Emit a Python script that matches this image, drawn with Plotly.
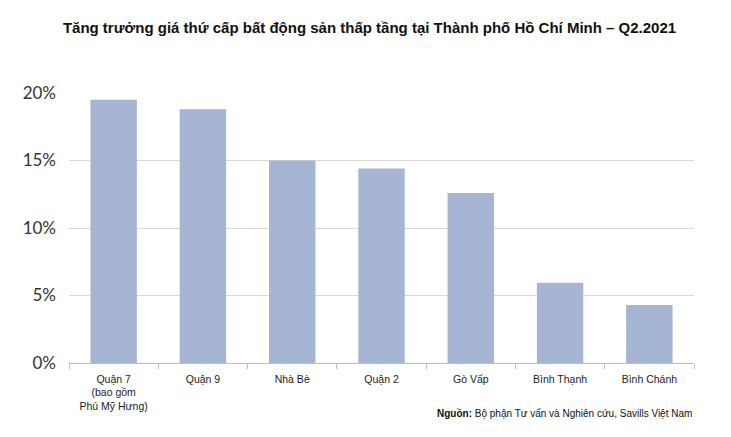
import plotly.graph_objects as go

categories = ["Quận 7<br>(bao gồm<br>Phú Mỹ Hưng)", "Quận 9", "Nhà Bè", "Quận 2", "Gò Vấp", "Bình Thạnh", "Bình Chánh"]
growth = [19.5, 18.8, 15.0, 14.4, 12.6, 5.95, 4.3]
y_ticks = [0, 5, 10, 15, 20]
y_tick_labels = ["0%", "5%", "10%", "15%", "20%"]

W, H = 723, 429  # page body has an 8px margin
PLOT_H = 270

fig = go.Figure(go.Bar(
    x=categories, y=growth,
    marker=dict(color="#a5b5d3", line=dict(width=0)),
    hoverinfo="skip",
))

fig.update_layout(
    width=W, height=H,
    margin=dict(l=61, r=37, t=85, b=H - 85 - PLOT_H),
    paper_bgcolor="white", plot_bgcolor="white",
    bargap=0.48,
    showlegend=False,
    title=dict(
        text="<b>Tăng trưởng giá thứ cấp bất động sản thấp tầng tại Thành phố Hồ Chí Minh – Q2.2021</b>",
        x=0.5, xanchor="center", y=1 - 20 / H, yanchor="middle",
        font=dict(family="Liberation Sans, Arial", size=15, color="#111111"),
    ),
    xaxis=dict(
        showgrid=False, showline=True, linecolor="#bdbdbd", linewidth=1,
        ticks="outside", tickson="boundaries", ticklen=5, tickcolor="#bdbdbd",
        ticklabelstandoff=6,
        tickfont=dict(family="Liberation Sans, Arial", size=10.5, color="#222222"),
        fixedrange=True,
    ),
    yaxis=dict(
        range=[0, 20], tickvals=y_ticks, ticktext=y_tick_labels,
        showgrid=True, gridcolor="#dcd8d3", gridwidth=1.3,
        zeroline=False, showline=False, ticks="", ticklabelstandoff=12,
        tickfont=dict(family="Lato, Noto Sans", size=17, color="#333333"),
        fixedrange=True,
    ),
    annotations=[dict(
        text="<b>Nguồn:</b> Bộ phận Tư vấn và Nghiên cứu, Savills Việt Nam",
        xref="paper", yref="paper", x=1, xanchor="right", y=-(412 - 362) / PLOT_H, yanchor="middle",
        showarrow=False, font=dict(family="Liberation Sans, Arial", size=10, color="#111111"),
    )],
)

fig.write_html("out.html")
